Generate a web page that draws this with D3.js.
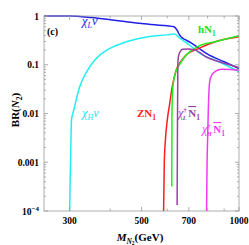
<!DOCTYPE html>
<html>
<head>
<meta charset="utf-8">
<script src="https://cdn.jsdelivr.net/npm/d3@7"></script>
<style>
body { margin: 0; background: #fff; }
svg { display: block; font-family: "Liberation Serif", "DejaVu Serif", serif; }
</style>
</head>
<body>
<div id="graphique"></div>
<script>
"use strict";

// données : [M_N2 (GeV), BR]
var chiLnu = [[250, 1], [300, 1], [350, 0.93], [400, 0.84], [450, 0.76], [500, 0.7], [550, 0.66],
	[600, 0.63], [630, 0.6], [645, 0.5], [655, 0.41], [680, 0.33], [700, 0.3], [750, 0.22],
	[800, 0.165], [900, 0.115], [1000, 0.083]];
var chiHnu = [[300, 1e-4], [301, 4e-4], [302, 0.0011], [304, 0.0074], [309, 0.0118], [322, 0.035],
	[341, 0.078], [359, 0.125], [391, 0.2], [438, 0.279], [519, 0.371], [600, 0.41], [632, 0.427],
	[655, 0.354], [703, 0.254], [755, 0.174], [870, 0.114], [1000, 0.072]];
var zN1 = [[585, 1e-4], [588, 0.001], [593, 0.003], [600, 0.007], [611, 0.016], [622, 0.035],
	[640, 0.078], [660, 0.115], [687, 0.158], [755, 0.22], [850, 0.3], [1000, 0.375]];
var hN1 = [[620, 3.2e-4], [620.5, 0.002], [621, 0.012], [625, 0.035], [632, 0.056], [641, 0.078],
	[655, 0.1], [687, 0.158], [745, 0.235], [850, 0.3], [1000, 0.395]];
var chiLN1 = [[644, 1.33e-4], [645, 0.001], [646, 0.01], [647, 0.05], [648, 0.12], [652, 0.16],
	[660, 0.19], [670, 0.207], [700, 0.21], [740, 0.195], [790, 0.146], [870, 0.115], [1000, 0.088]];
var chiHN1 = [[794, 1e-4], [797, 0.001], [800, 0.003], [804, 0.012], [808, 0.03], [812, 0.045],
	[825, 0.062], [850, 0.075], [880, 0.081], [940, 0.08], [1000, 0.077]];

var ticksX = [300, 400, 500, 600, 700, 800, 900, 1000];
var labelsX = [300, 500, 700, 1000];
var ticksY = [1e-4, 1e-3, 1e-2, 1e-1, 1];
var labelsY = ["10", "0.001", "0.01", "0.1", "1"];

var marge = { top: 16, right: 10, bottom: 34, left: 44 },
	wid = 249, hei = 245,
	dte = wid - marge.right, bas = hei - marge.bottom;

var x = d3.scaleLog().domain([250, 1000]).range([marge.left, dte]),
	y = d3.scaleLog().domain([1e-4, 1]).range([bas, marge.top]);

var dom = d3.select("#graphique").append("svg")
	.attr("width", wid).attr("height", hei)
	.attr("viewBox", "0 0 " + wid + " " + hei);

dom.append("clipPath").attr("id", "cadre")
	.append("rect")
	.attr("x", marge.left).attr("y", marge.top - 1)
	.attr("width", dte - marge.left).attr("height", bas - marge.top + 1);

// courbes
var trace = d3.line().x(d => x(d[0])).y(d => y(d[1])).curve(d3.curveMonotoneX);
var courbes = dom.append("g").attr("clip-path", "url(#cadre)").attr("fill", "none")
	.attr("stroke-width", 1.5).attr("stroke-linejoin", "round");
[[chiHnu, "#22eef2"], [chiLnu, "#2020e8"], [zN1, "#ff1e1e"], [hN1, "#22ee22"],
	[chiLN1, "#9c3fa6"], [chiHN1, "#f23af2"]].forEach(c => {
	courbes.append("path").attr("d", trace(c[0])).attr("stroke", c[1]);
});

// cadre et graduations
var gris = "#9a9a9a";
dom.append("rect").attr("x", marge.left).attr("y", marge.top)
	.attr("width", dte - marge.left).attr("height", bas - marge.top)
	.attr("fill", "none").attr("stroke", gris).attr("stroke-width", 0.8);

var gAxes = dom.append("g").attr("stroke", gris).attr("stroke-width", 0.8);
ticksX.forEach(t => {
	var l = labelsX.indexOf(t) >= 0 ? 4 : 2.5;
	gAxes.append("line").attr("x1", x(t)).attr("x2", x(t)).attr("y1", bas).attr("y2", bas - l);
	gAxes.append("line").attr("x1", x(t)).attr("x2", x(t)).attr("y1", marge.top).attr("y2", marge.top + l);
});
ticksY.forEach((t, i) => {
	gAxes.append("line").attr("x1", marge.left).attr("x2", marge.left + 4).attr("y1", y(t)).attr("y2", y(t));
	gAxes.append("line").attr("x1", dte).attr("x2", dte - 4).attr("y1", y(t)).attr("y2", y(t));
	if (i < ticksY.length - 1) {
		for (var k = 2; k < 10; k++) {
			var v = t * k;
			gAxes.append("line").attr("x1", marge.left).attr("x2", marge.left + 2).attr("y1", y(v)).attr("y2", y(v));
			gAxes.append("line").attr("x1", dte).attr("x2", dte - 2).attr("y1", y(v)).attr("y2", y(v));
		}
	}
});

var gTexte = dom.append("g").attr("font-weight", "bold").attr("font-size", 9.5).attr("fill", "#000");
labelsX.forEach(t => {
	gTexte.append("text").attr("x", x(t)).attr("y", bas + 13).attr("text-anchor", "middle").text(t);
});
ticksY.forEach((t, i) => {
	var e = gTexte.append("text").attr("x", marge.left - 5).attr("y", y(t) + 3.5).attr("text-anchor", "end");
	if (i === 0) {
		e.text(labelsY[i]);
		e.append("tspan").attr("dy", -4).attr("font-size", 7).text("\u22124");
	} else e.text(labelsY[i]);
});

// titres des axes
var tx = dom.append("text").attr("x", 140).attr("y", 241).attr("text-anchor", "middle")
	.attr("font-weight", "bold").attr("font-size", 11);
tx.append("tspan").attr("font-style", "italic").text("M");
tx.append("tspan").attr("dy", 2.5).attr("font-size", 7.5).attr("font-style", "italic").text("N");
tx.append("tspan").attr("dy", 1.5).attr("font-size", 5.5).text("2");
tx.append("tspan").attr("dy", -4).text("(GeV)");

var ty = dom.append("text").attr("transform", "translate(19,110) rotate(-90)")
	.attr("text-anchor", "middle").attr("font-weight", "bold").attr("font-size", 11);
ty.append("tspan").text("BR(");
ty.append("tspan").attr("font-style", "italic").text("N");
ty.append("tspan").attr("dy", 2.5).attr("font-size", 7.5).text("2");
ty.append("tspan").attr("dy", -2.5).text(")");

dom.append("text").attr("x", 47).attr("y", 35).attr("font-weight", "bold").attr("font-size", 10).text("(c)");

// étiquettes des courbes
function chi (px, py, coul, ind, sup) {
	var t = dom.append("text").attr("x", px).attr("y", py).attr("fill", coul).attr("font-size", 12.5);
	t.append("tspan").attr("font-style", "italic").text("\u03c7");
	if (sup) {
		t.append("tspan").attr("dy", -5.5).attr("font-size", 6.5).attr("font-weight", "bold").text(sup);
		t.append("tspan").attr("dx", -4).attr("dy", 8.5).attr("font-size", 6.5).attr("font-style", "italic").attr("font-weight", "bold").text(ind);
		t.append("tspan").attr("dy", -3).attr("font-size", 6).text(" ");
	} else {
		t.append("tspan").attr("dy", 2.5).attr("font-size", 8).attr("font-style", "italic").text(ind);
		t.append("tspan").attr("dy", -2.5).attr("font-style", "italic").text("\u03bd");
	}
	return t;
}
chi(82, 25, "#2020e8", "L");
chi(82, 117, "#22e6ee", "H");

function barN (t) {
	t.append("tspan").attr("font-weight", "bold").attr("font-size", 11).attr("text-decoration", "overline").text("N");
	t.append("tspan").attr("dy", 2.5).attr("font-size", 7.5).attr("font-weight", "bold").text("1");
}
var tL = chi(178, 117, "#9c3fa6", "L", "\u2020");
barN(tL);
var tH = chi(202, 133, "#f23af2", "H", "\u2020");
barN(tH);

function nom (px, py, coul, lettres) {
	var t = dom.append("text").attr("x", px).attr("y", py).attr("fill", coul)
		.attr("font-size", 11).attr("font-weight", "bold");
	t.append("tspan").text(lettres);
	t.append("tspan").attr("dy", 2.5).attr("font-size", 7.5).text("1");
}
nom(198, 33, "#22dd22", "hN");
nom(137, 117, "#ff1e1e", "ZN");
</script>
</body>
</html>
